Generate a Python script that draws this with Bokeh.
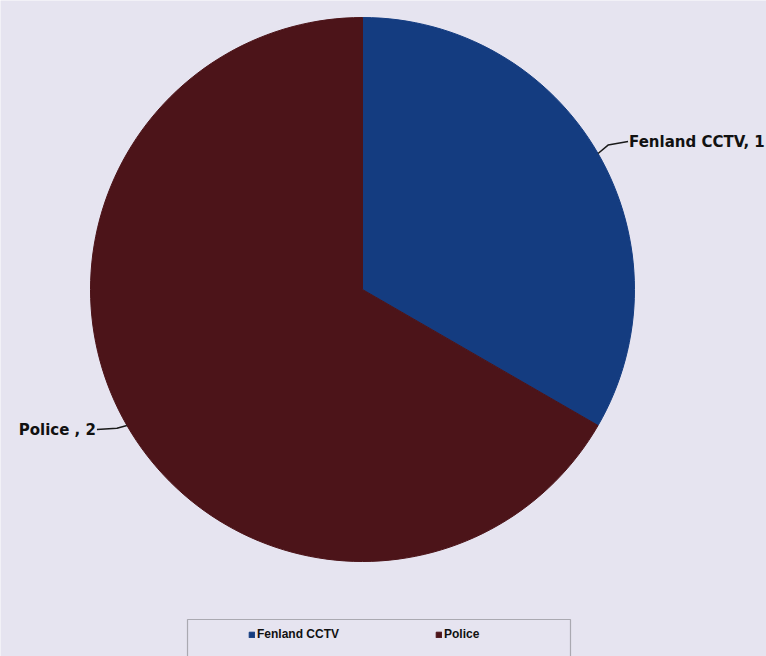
import math
from bokeh.plotting import figure
from bokeh.models import ColumnDataSource, Range1d, Legend, LegendItem, BoxAnnotation
from bokeh.embed import file_html
from bokeh.resources import INLINE

categories = ["Fenland CCTV", "Police"]
values = [1, 2]
colors = ["#143C80", "#4C1419"]

W, H = 766, 656
p = figure(width=W, height=H, output_backend="svg", toolbar_location=None,
           x_range=Range1d(0, W), y_range=Range1d(0, H), min_border=0)
p.axis.visible = False
p.grid.visible = False
p.outline_line_color = None
p.background_fill_color = "#E6E4F0"
p.border_fill_color = "#E6E4F0"

cx, cy, r = 362, H - 289, 272
total = sum(values)
starts, ends = [], []
a = math.pi / 2
for v in values:
    starts.append(a)
    a -= v / total * 2 * math.pi
    ends.append(a)

src = ColumnDataSource(dict(cat=categories, val=values, start=starts, end=ends, color=colors))
wr = p.wedge(x=cx, y=cy, radius=r, start_angle="end", end_angle="start",
             fill_color="color", line_color="color", line_width=1, source=src)

# data labels with leader lines
lab_x, lab_y, lab_t, align = [], [], [], []
for cat, v, s, e in zip(categories, values, starts, ends):
    m = (s + e) / 2
    ex, ey = cx + r * math.cos(m), cy + r * math.sin(m)
    side = 1 if math.cos(m) > 0 else -1
    tx, ty = ex + side * 30, ey + (12 if math.sin(m) > 0 else -4)
    p.line([ex, ex + side * 10, tx], [ey, ey + (ty - ey) * 0.7, ty], line_color="#1a1a1a", line_width=1.5)
    lab_x.append(tx + side * 1)
    lab_y.append(ty)
    lab_t.append(f"{cat}, {v}" if side > 0 else f"{cat} , {v}")
    align.append("left" if side > 0 else "right")

p.text(x=lab_x, y=lab_y, text=lab_t, text_align=align, text_baseline="middle",
       text_font_size="15px", text_font_style="bold", text_color="#111111",
       text_font={"value": "DejaVu Sans"})

# legend box
p.add_layout(BoxAnnotation(left=187, right=570, bottom=-5, top=H - 619,
                           fill_alpha=0, line_color="#222222", line_width=1.2))

items = [LegendItem(label=c, renderers=[wr], index=i) for i, c in enumerate(categories)]
legend = Legend(items=items, orientation="horizontal", location=(246, 13),
                background_fill_alpha=0, border_line_alpha=0, padding=2,
                spacing=96, glyph_width=7, glyph_height=7, label_standoff=2,
                label_text_font="Liberation Sans", label_text_font_style="bold",
                label_text_font_size="12px", label_text_color="#111111", margin=0)
p.add_layout(legend)

open("out.html", "w").write(file_html(p, INLINE))
